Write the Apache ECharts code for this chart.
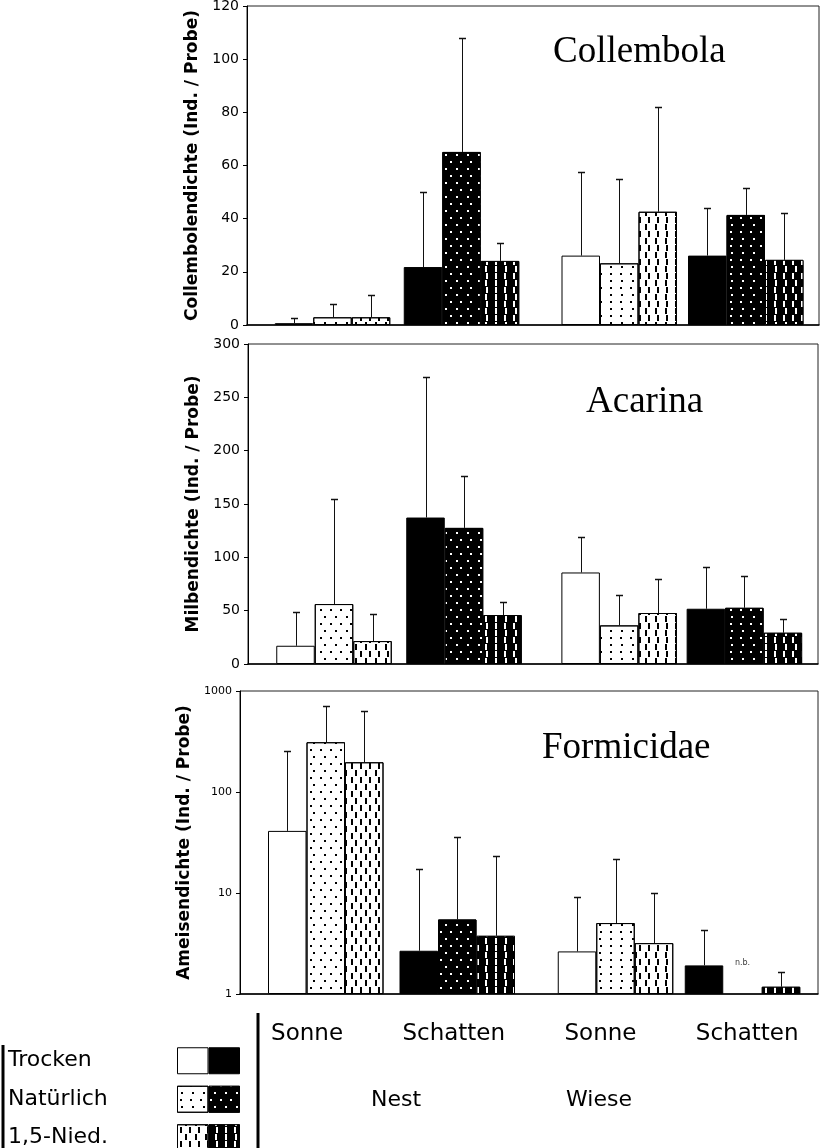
<!DOCTYPE html>
<html>
<head>
<meta charset="utf-8">
<script src="https://cdn.jsdelivr.net/npm/echarts@6/dist/echarts.min.js"></script>
<style>
html,body{margin:0;padding:0;background:#fff;}
#chart{width:823px;height:1148px;}
</style>
</head>
<body>
<div id="chart"></div>
<script>
// ---------- DATA ----------
const sites = ['Nest', 'Wiese'];
const conditions = ['Sonne', 'Schatten'];
const treatments = ['Trocken', 'Natürlich', '1,5-Nied.'];
const taxa = ['Collembola', 'Acarina', 'Formicidae'];
const axisNames = ['Collembolendichte (Ind. / Probe)', 'Milbendichte (Ind. / Probe)', 'Ameisendichte (Ind. / Probe)'];

// order of values: Nest-Sonne, Nest-Schatten, Wiese-Sonne, Wiese-Schatten
const collTrocken   = [0.7, 21.8, 26.1, 26.1];
const collTrockenUp = [2.8, 50.0, 57.7, 44.1];
const collNatur     = [2.9, 65.1, 23.2, 41.4];
const collNaturUp   = [7.9, 108.0, 54.9, 51.7];
const collNied      = [2.9, 24.1, 42.6, 24.5];
const collNiedUp    = [11.4, 30.9, 81.9, 42.0];

const acarTrocken   = [17.1, 137.3, 85.8, 51.8];
const acarTrockenUp = [48.3, 268.8, 119.5, 90.5];
const acarNatur     = [56.2, 127.6, 36.2, 52.7];
const acarNaturUp   = [154.5, 176.3, 64.6, 82.7];
const acarNied      = [21.5, 45.9, 47.8, 29.3];
const acarNiedUp    = [46.8, 57.7, 79.6, 42.1];

const formTrocken   = [41.2, 2.68, 2.64, 1.92];
const formTrockenUp = [255, 17.2, 9.1, 4.26];
const formNatur     = [311, 5.47, 5.04, null];   // Wiese-Schatten: n.b.
const formNaturUp   = [711, 35.7, 21.8, null];
const formNied      = [197, 3.77, 3.19, 1.18];
const formNiedUp    = [638, 23.3, 10.1, 1.67];

const collAxis = { min: 0, max: 120, interval: 20 };
const acarAxis = { min: 0, max: 300, interval: 50 };
const formAxis = { min: 1, max: 1000 };
const nbLabel = 'n.b.';
const nbValue = 2.05;
const legendSwatch = [1, 1, 1]; // equal halves of each legend swatch

// ---------- LAYOUT / STYLE ----------
const layouts = [
  { left: 247, right: 819, top: 6,   bottom: 325, nest: [268, 526], wiese: [556, 809], nameGap: 44, labelSize: 14 },
  { left: 248, right: 818, top: 344, bottom: 664, nest: [269, 529], wiese: [556.5, 807], nameGap: 44, labelSize: 14 },
  { left: 240, right: 818, top: 691, bottom: 994, nest: [260, 523], wiese: [552, 806], nameGap: 37, labelSize: 11 }
];
const BAR_W = 38.5;
const SANS = 'DejaVu Sans';

function dotDecal(c) {
  return { symbol: 'rect', symbolSize: 1, symbolKeepAspect: false,
    dashArrayX: [[1.5, 8], [0, 4.75, 1.5, 3.25]], dashArrayY: [1.5, 5], color: c };
}
function dashDecal(c) {
  return { symbol: 'rect', symbolSize: 1, symbolKeepAspect: false,
    dashArrayX: [[2, 6.5], [0, 4.25, 2, 2.25]], dashArrayY: [5.5, 1], color: c };
}
function itemStyleFor(t, cond) {
  const fill = cond === 0 ? '#ffffff' : '#000000';
  const ink = cond === 0 ? '#000000' : '#ffffff';
  const st = { color: fill, borderColor: '#000', borderWidth: 1 };
  if (t === 1) st.decal = dotDecal(ink);
  if (t === 2) st.decal = dashDecal(ink);
  return st;
}

const panelSeries = [
  [[collTrocken, collTrockenUp], [collNatur, collNaturUp], [collNied, collNiedUp]],
  [[acarTrocken, acarTrockenUp], [acarNatur, acarNaturUp], [acarNied, acarNiedUp]],
  [[formTrocken, formTrockenUp], [formNatur, formNaturUp], [formNied, formNiedUp]]
];
const panelAxes = [collAxis, acarAxis, formAxis];

const titleStyle = { fontFamily: 'Liberation Serif', fontSize: 37, fontWeight: 'normal', color: '#000' };
const option = {
  animation: false,
  backgroundColor: '#fff',
  grid: [], xAxis: [], yAxis: [], series: [],
  title: [
    { text: taxa[0], left: 553, top: 34, padding: 0, textStyle: titleStyle },
    { text: taxa[1], left: 586, top: 384, padding: 0, textStyle: titleStyle },
    { text: taxa[2], left: 542, top: 730, padding: 0, textStyle: titleStyle }
  ],
  graphic: [
    { type: 'line', shape: { x1: 3, y1: 1045, x2: 3, y2: 1148 }, style: { stroke: '#000', lineWidth: 3 } },
    { type: 'line', shape: { x1: 258, y1: 1013, x2: 258, y2: 1148 }, style: { stroke: '#000', lineWidth: 3 } }
  ]
};

function yAxisBase(p, gi, show) {
  const ax = panelAxes[p];
  const y = {
    gridIndex: gi,
    type: p === 2 ? 'log' : 'value',
    min: ax.min, max: ax.max,
    show: show,
    splitLine: { show: false },
    axisLine: { show: true, lineStyle: { color: '#000', width: 1 } },
    axisTick: { show: true, length: 4, inside: false, lineStyle: { color: '#000' } },
    axisLabel: { show: true, color: '#000', fontFamily: SANS, fontSize: layouts[p].labelSize, margin: 8,
      formatter: function (v) { return String(Math.round(v)); } }
  };
  if (p === 2) y.logBase = 10; else y.interval = ax.interval;
  return y;
}

for (let p = 0; p < 3; p++) {
  const L = layouts[p];
  const h = L.bottom - L.top;
  // frame grid
  const fg = option.grid.length;
  option.grid.push({ left: L.left, top: L.top, width: L.right - L.left, height: h, show: true,
    borderColor: '#222', borderWidth: 1, backgroundColor: 'transparent', containLabel: false, outerBoundsMode: 'none' });
  option.xAxis.push({ gridIndex: fg, type: 'value', min: 0, max: 1, show: true,
    axisLine: { show: true, lineStyle: { color: '#000', width: 1.5 } }, axisTick: { show: false },
    axisLabel: { show: false }, splitLine: { show: false } });
  const fy = yAxisBase(p, fg, true);
  fy.name = axisNames[p];
  fy.nameLocation = 'middle';
  fy.nameGap = L.nameGap;
  fy.nameTextStyle = { fontFamily: SANS, fontWeight: 'bold', fontSize: 17, color: '#000' };
  option.yAxis.push(fy);

  // data grids, one per site
  for (let s = 0; s < 2; s++) {
    const range = s === 0 ? L.nest : L.wiese;
    const gi = option.grid.length;
    option.grid.push({ left: range[0], top: L.top, width: range[1] - range[0], height: h, containLabel: false, outerBoundsMode: 'none' });
    option.xAxis.push({ gridIndex: gi, type: 'category', data: conditions, show: false, boundaryGap: true });
    option.yAxis.push(yAxisBase(p, gi, false));
    for (let t = 0; t < 3; t++) {
      const means = panelSeries[p][t][0];
      const ups = panelSeries[p][t][1];
      const barData = [];
      const errData = [];
      for (let c = 0; c < 2; c++) {
        const k = s * 2 + c;
        barData.push({ value: means[k], itemStyle: itemStyleFor(t, c) });
        errData.push([c, means[k] == null ? NaN : means[k], ups[k] == null ? NaN : ups[k]]);
      }
      option.series.push({
        type: 'bar', name: treatments[t], xAxisIndex: gi, yAxisIndex: gi,
        barWidth: BAR_W, barGap: '0%', silent: true, data: barData, z: 2
      });
      const offset = (t - 1) * BAR_W;
      option.series.push({
        type: 'custom', xAxisIndex: gi, yAxisIndex: gi, silent: true, z: 3, data: errData,
        renderItem: function (params, api) {
          const m = api.value(1), u = api.value(2);
          if (!isFinite(m) || !isFinite(u)) return null;
          const a = api.coord([api.value(0), m]);
          const b = api.coord([api.value(0), u]);
          const x = Math.round(a[0] + offset) + 0.5;
          const yb = Math.round(b[1]) + 0.5;
          return { type: 'group', children: [
            { type: 'line', shape: { x1: x, y1: a[1], x2: x, y2: yb }, style: { stroke: '#111', lineWidth: 1 } },
            { type: 'line', shape: { x1: x - 3.5, y1: yb, x2: x + 3.5, y2: yb }, style: { stroke: '#111', lineWidth: 1.5 } }
          ] };
        }
      });
    }
    if (p === 2 && s === 1) {
      option.series.push({
        type: 'scatter', xAxisIndex: gi, yAxisIndex: gi, silent: true, symbolSize: 1,
        itemStyle: { color: 'transparent' },
        data: [[1, nbValue]],
        label: { show: true, formatter: nbLabel, position: 'inside', fontSize: 8, fontFamily: SANS, color: '#000' }
      });
    }
  }
}

// bottom condition labels
(function () {
  const gi = option.grid.length;
  option.grid.push({ left: 233.7, top: 1017, width: 586.8, height: 1, containLabel: false, outerBoundsMode: 'none' });
  option.xAxis.push({ gridIndex: gi, type: 'category', data: sites.flatMap(() => conditions),
    axisLine: { show: false }, axisTick: { show: false }, splitLine: { show: false },
    axisLabel: { interval: 0, margin: 5, color: '#000', fontFamily: SANS, fontSize: 23 } });
  option.yAxis.push({ gridIndex: gi, type: 'value', show: false });
})();
// site labels
(function () {
  const gi = option.grid.length;
  option.grid.push({ left: 294.5, top: 1080, width: 406, height: 1, containLabel: false, outerBoundsMode: 'none' });
  option.xAxis.push({ gridIndex: gi, type: 'category', data: sites,
    axisLine: { show: false }, axisTick: { show: false }, splitLine: { show: false },
    axisLabel: { interval: 0, margin: 8, color: '#000', fontFamily: SANS, fontSize: 22 } });
  option.yAxis.push({ gridIndex: gi, type: 'value', show: false });
})();
// legend
(function () {
  const gi = option.grid.length;
  option.grid.push({ left: 177, top: 1041.5, width: 63, height: 115.5, containLabel: false, outerBoundsMode: 'none' });
  option.xAxis.push({ gridIndex: gi, type: 'value', min: 0, max: 2, show: false });
  option.yAxis.push({ gridIndex: gi, type: 'category', data: treatments, inverse: true,
    axisLine: { show: false }, axisTick: { show: false }, splitLine: { show: false },
    axisLabel: { interval: 0, align: 'left', margin: 169, color: '#000', fontFamily: SANS, fontSize: 22 } });
  for (let c = 0; c < 2; c++) {
    option.series.push({
      type: 'bar', xAxisIndex: gi, yAxisIndex: gi, stack: 'legend', barWidth: 27, silent: true,
      data: legendSwatch.map((v, t) => ({ value: v, itemStyle: itemStyleFor(t, c) }))
    });
  }
})();

const chart = echarts.init(document.getElementById('chart'), null, { renderer: 'canvas' });
chart.setOption(option);
</script>
</body>
</html>
